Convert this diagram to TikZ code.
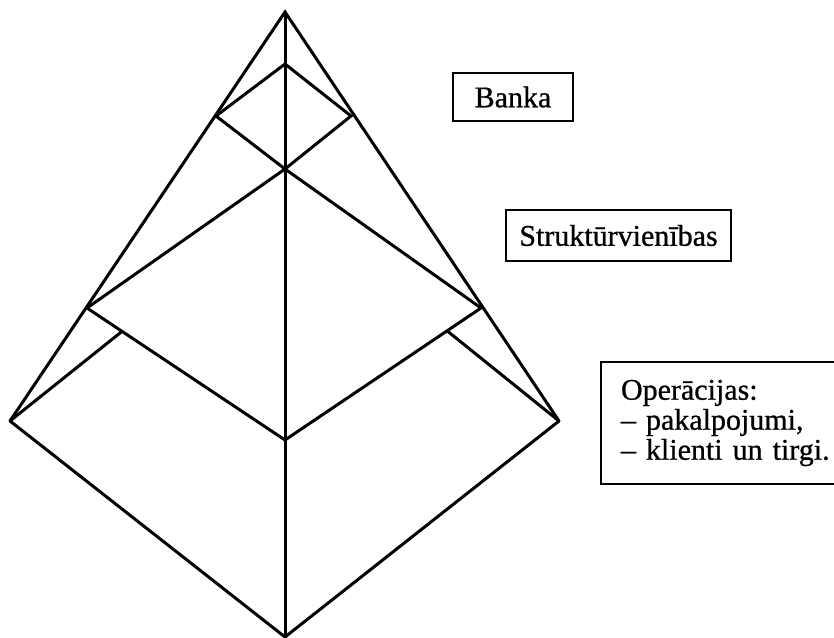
\documentclass[tikz,border=0pt]{standalone}
\usepackage{fontspec}
\setmainfont{Liberation Serif}[FakeBold=0.8]
\usetikzlibrary{calc}
\begin{document}
\begin{tikzpicture}[x=1pt,y=-1pt,
  edge/.style={line width=3pt,line join=miter,line cap=round},
  label box/.style={draw,line width=2pt,inner sep=0pt,font=\fontsize{30}{30}\selectfont}]
\useasboundingbox (0,0) rectangle (834,637);
% points
\coordinate (A) at (285,12);
\coordinate (L) at (10,421);
\coordinate (R) at (559,421);
\coordinate (B) at (285,637);
\coordinate (T1) at (285,64);
\coordinate (SL) at (216,116);
\coordinate (SR) at (351,116);
\coordinate (SB) at (285,169);
\coordinate (ML) at (87,308);
\coordinate (MR) at (481,308);
\coordinate (MB) at (285,440);
\coordinate (JL) at ($(ML)!0.177!(MB)$);
\coordinate (JR) at ($(MR)!0.173!(MB)$);
% outer
\draw[edge] (L) -- (A) -- (R);
\draw[edge] (L) -- (B) -- (R);
\draw[edge] (A) -- (B);
% small diamond
\draw[edge] (T1) -- (SL) -- (SB) -- (SR) -- cycle;
% middle diamond
\draw[edge] (SB) -- (ML) -- (MB) -- (MR) -- cycle;
% lower diamond upper edges
\draw[edge] (L) -- (JL);
\draw[edge] (R) -- (JR);
% labels
\node[label box,minimum width=120,minimum height=48] (banka) at (513,97) {Banka};
\node[label box,minimum width=225,minimum height=51] (struk) at (618.5,235.5) {Struktūrvienības};
\node[label box,anchor=north west,minimum height=122,text width=222,inner xsep=20,align=left] (oper) at (600,361)
  {\baselineskip=30pt Operācijas:\\– pakalpojumi,\\– klienti un tirgi.\par};
\end{tikzpicture}
\end{document}
